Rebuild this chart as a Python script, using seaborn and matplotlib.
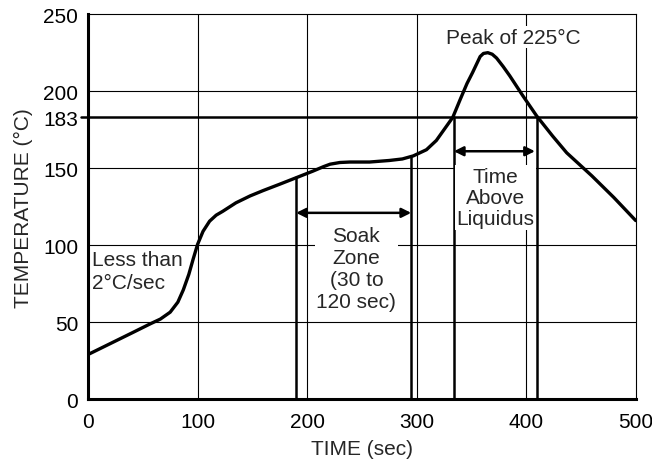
import matplotlib
matplotlib.use("Agg")
import matplotlib.pyplot as plt
import pandas as pd
import seaborn as sns

# reflow profile
time_s = [0, 20, 40, 57, 66, 75, 82, 87, 92, 96, 100, 105, 111, 117, 123,
          135, 148, 160, 175, 190, 205, 215, 221, 230, 239, 257, 275, 287,
          297, 309, 318, 324, 333, 340, 346, 351, 355, 358, 361, 365, 369,
          373, 379, 385, 397, 409.5, 424, 437, 460, 480, 500]
temp_c = [29, 36, 43, 49, 52, 56.5, 63, 71, 81, 91, 100.5, 109, 115.6, 119.5,
          122, 127.5, 132, 135.5, 139.6, 143.8, 148, 151, 152.6, 153.7, 154,
          154, 155, 156, 158, 162, 168, 174, 183, 195, 205, 212, 218, 222.5,
          224.5, 225, 224, 221.5, 216, 210, 197, 184, 171, 160, 145, 131, 116]

liquidus = 183
soak_start, soak_end = 190, 295
soak_top = [144, 157]
tal_start, tal_end = 334, 410

x_ticks = [0, 100, 200, 300, 400, 500]
y_ticks = [0, 50, 100, 150, 183, 200, 250]

sns.set_style("white")
plt.rcParams["font.family"] = ["Liberation Sans", "DejaVu Sans"]
FS = 15

fig = plt.figure(figsize=(6.52, 4.60), dpi=100)
ax = fig.add_axes([0.135, 0.130, 0.840, 0.837])

df = pd.DataFrame({"time": time_s, "temp": temp_c})

# grid
for gx in x_ticks[1:-1]:
    ax.axvline(gx, color="black", lw=0.8, zorder=1)
for gy in [50, 100, 150, 200]:
    ax.axhline(gy, color="black", lw=0.8, zorder=1)

ax.axhline(liquidus, xmin=-0.012, color="black", lw=1.8, clip_on=False, zorder=2)

# soak zone and time above liquidus markers
ax.plot([soak_start, soak_start], [0, soak_top[0]], color="black", lw=1.8, zorder=2)
ax.plot([soak_end, soak_end], [0, soak_top[1]], color="black", lw=1.8, zorder=2)
ax.plot([tal_start, tal_start], [0, liquidus], color="black", lw=1.8, zorder=2)
ax.plot([tal_end, tal_end], [0, liquidus], color="black", lw=1.8, zorder=2)

arrow = dict(arrowstyle="<|-|>", color="black", lw=1.8, mutation_scale=14,
             shrinkA=0, shrinkB=0)
ax.annotate("", xy=(soak_end, 121), xytext=(soak_start, 121), arrowprops=arrow, zorder=3)
ax.annotate("", xy=(tal_end - 2, 161), xytext=(tal_start, 161), arrowprops=arrow, zorder=3)

sns.lineplot(data=df, x="time", y="temp", color="black", lw=2.4, ax=ax, zorder=4)
for ln in ax.lines:
    ln.set_solid_joinstyle("round")

box = dict(facecolor="white", edgecolor="none", pad=1)
ax.text(388, 235, "Peak of 225°C", ha="center", va="center", fontsize=FS, bbox=box, zorder=5)
ax.text(372, 131, "Time\nAbove\nLiquidus", ha="center", va="center", fontsize=FS,
        linespacing=1.15, bbox=box, zorder=5)
ax.text(245, 85, "Soak\nZone\n(30 to\n120 sec)", ha="center", va="center", fontsize=FS,
        linespacing=1.2, bbox=box, zorder=5)
ax.text(4, 83, "Less than\n2°C/sec", ha="left", va="center", fontsize=FS,
        linespacing=1.25, zorder=5)

ax.set_xlim(0, 500)
ax.set_ylim(0, 250)
ax.set_xticks(x_ticks)
ax.set_yticks(y_ticks)
ax.tick_params(axis="x", length=0, labelsize=FS, colors="black", pad=9)
ax.tick_params(axis="y", length=0, labelsize=FS, colors="black", pad=7)
ax.set_xlabel("TIME (sec)", fontsize=FS, labelpad=6)
ax.set_ylabel("TEMPERATURE (°C)", fontsize=FS, labelpad=7)

for side in ["top", "right"]:
    ax.spines[side].set_linewidth(0.8)
    ax.spines[side].set_color("black")
for side in ["left", "bottom"]:
    ax.spines[side].set_linewidth(2.2)
    ax.spines[side].set_color("black")

fig.savefig("out.png", dpi=100)
